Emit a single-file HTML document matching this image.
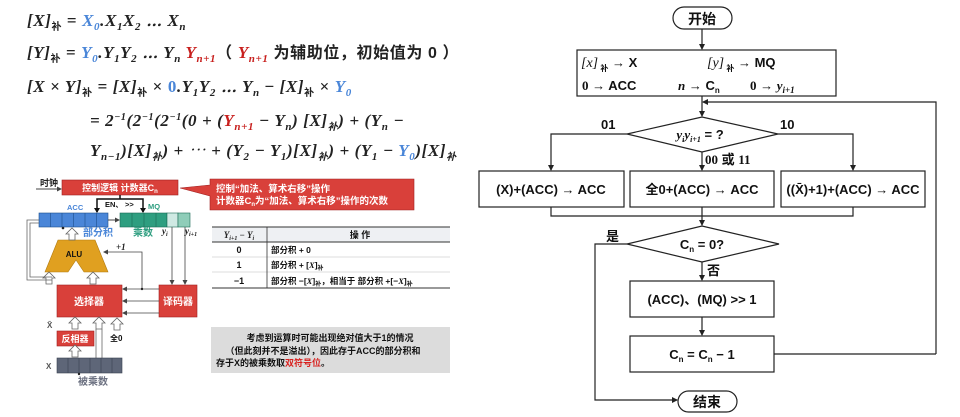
<!DOCTYPE html>
<html><head><meta charset="utf-8"><style>
html,body{margin:0;padding:0;background:#fff;}
svg{display:block;}
.m{font-family:"Liberation Serif","Noto Serif CJK SC",serif;font-weight:bold;font-style:italic;fill:#222;}
.fm{letter-spacing:0.6px;}
.s{font-family:"Liberation Sans","Noto Sans CJK SC",sans-serif;font-weight:bold;}
.f{font-family:"Liberation Sans","Noto Sans CJK SC",sans-serif;font-weight:bold;font-size:13px;fill:#111;}
.bl{fill:#4a86d8}.rd{fill:#c8201e}
</style></head><body>
<svg width="960" height="417" viewBox="0 0 960 417" xmlns="http://www.w3.org/2000/svg">
<defs>
<marker id="a" markerWidth="6" markerHeight="6" refX="5" refY="3" orient="auto" markerUnits="userSpaceOnUse"><path d="M0,0 L6,3 L0,6z" fill="#222"/></marker>
<marker id="b" markerWidth="5" markerHeight="5" refX="4" refY="2.5" orient="auto" markerUnits="userSpaceOnUse"><path d="M0,0 L5,2.5 L0,5z" fill="#444"/></marker>
<g id="ha"><path d="M-3,0 L-3,-6 L-6,-6 L0,-12 L6,-6 L3,-6 L3,0z" fill="#fff" stroke="#666" stroke-width="0.8"/></g>
</defs>

<!-- formulas -->
<text x="27" y="26" class="m fm" font-size="17">[X]<tspan class="s" font-style="normal" font-size="10" dy="4">补</tspan><tspan dy="-4" font-style="normal"> = </tspan><tspan class="bl">X</tspan><tspan class="bl" font-size="11" dy="4">0</tspan><tspan dy="-4">.X</tspan><tspan font-size="11" dy="4">1</tspan><tspan dy="-4">X</tspan><tspan font-size="11" dy="4">2</tspan><tspan dy="-4"> ⋯ X</tspan><tspan font-size="11" dy="4">n</tspan></text>
<text x="27" y="58" class="m fm" font-size="17">[Y]<tspan class="s" font-style="normal" font-size="10" dy="4">补</tspan><tspan dy="-4" font-style="normal"> = </tspan><tspan class="bl">Y</tspan><tspan class="bl" font-size="11" dy="4">0</tspan><tspan dy="-4">.Y</tspan><tspan font-size="11" dy="4">1</tspan><tspan dy="-4">Y</tspan><tspan font-size="11" dy="4">2</tspan><tspan dy="-4"> ⋯ Y</tspan><tspan font-size="11" dy="4">n</tspan><tspan dy="-4" class="rd"> Y</tspan><tspan class="rd" font-size="11" dy="4">n+1</tspan><tspan dy="-4" class="s" font-style="normal" font-size="16">（ </tspan><tspan class="rd">Y</tspan><tspan class="rd" font-size="11" dy="4">n+1</tspan><tspan dy="-4" class="s" font-style="normal" font-size="16"> 为辅助位，初始值为 0 ）</tspan></text>
<text x="27" y="92" class="m fm" font-size="17">[X × Y]<tspan class="s" font-style="normal" font-size="10" dy="4">补</tspan><tspan dy="-4" font-style="normal"> = </tspan>[X]<tspan class="s" font-style="normal" font-size="10" dy="4">补</tspan><tspan dy="-4" font-style="normal"> × </tspan><tspan class="bl" font-style="normal">0</tspan>.Y<tspan font-size="11" dy="4">1</tspan><tspan dy="-4">Y</tspan><tspan font-size="11" dy="4">2</tspan><tspan dy="-4"> ⋯ Y</tspan><tspan font-size="11" dy="4">n</tspan><tspan dy="-4" font-style="normal">  −  </tspan>[X]<tspan class="s" font-style="normal" font-size="10" dy="4">补</tspan><tspan dy="-4" font-style="normal"> × </tspan><tspan class="bl">Y</tspan><tspan class="bl" font-size="11" dy="4">0</tspan></text>
<text x="90" y="126" class="m fm" font-size="17" font-style="normal">= 2<tspan font-size="10" dy="-6">−1</tspan><tspan dy="6">(2</tspan><tspan font-size="10" dy="-6">−1</tspan><tspan dy="6">(2</tspan><tspan font-size="10" dy="-6">−1</tspan><tspan dy="6">(0 + (</tspan><tspan class="rd" font-style="italic">Y</tspan><tspan class="rd" font-style="italic" font-size="11" dy="4">n+1</tspan><tspan dy="-4"> − </tspan><tspan font-style="italic">Y</tspan><tspan font-style="italic" font-size="11" dy="4">n</tspan><tspan dy="-4">) [</tspan><tspan font-style="italic">X</tspan>]<tspan class="s" font-size="10" dy="4">补</tspan><tspan dy="-4">) + (</tspan><tspan font-style="italic">Y</tspan><tspan font-style="italic" font-size="11" dy="4">n</tspan><tspan dy="-4"> −</tspan></text>
<text x="90" y="156" class="m fm" font-size="17" font-style="normal"><tspan font-style="italic">Y</tspan><tspan font-style="italic" font-size="11" dy="4">n−1</tspan><tspan dy="-4">)[</tspan><tspan font-style="italic">X</tspan>]<tspan class="s" font-size="10" dy="4">补</tspan><tspan dy="-4">) + ⋯ + (</tspan><tspan font-style="italic">Y</tspan><tspan font-style="italic" font-size="11" dy="4">2</tspan><tspan dy="-4"> − </tspan><tspan font-style="italic">Y</tspan><tspan font-style="italic" font-size="11" dy="4">1</tspan><tspan dy="-4">)[</tspan><tspan font-style="italic">X</tspan>]<tspan class="s" font-size="10" dy="4">补</tspan><tspan dy="-4">) + (</tspan><tspan font-style="italic">Y</tspan><tspan font-style="italic" font-size="11" dy="4">1</tspan><tspan dy="-4"> − </tspan><tspan class="bl" font-style="italic">Y</tspan><tspan class="bl" font-style="italic" font-size="11" dy="4">0</tspan><tspan dy="-4">)[</tspan><tspan font-style="italic">X</tspan>]<tspan class="s" font-size="10" dy="4">补</tspan></text>

<!-- hardware diagram -->
<text x="40" y="186" class="s" font-size="9" fill="#222">时钟</text>
<line x1="36" y1="189" x2="61" y2="189" stroke="#444" stroke-width="1" marker-end="url(#b)"/>
<rect x="62" y="180" width="116" height="15" fill="#d9403a" stroke="#a02020" stroke-width="0.6"/>
<text x="120" y="191" class="s" font-size="9" fill="#fff" text-anchor="middle">控制逻辑  计数器C<tspan font-size="6" dy="2">n</tspan></text>
<path d="M210,179 L414,179 L414,210 L210,210 L210,196 L180,188 L210,185z" fill="#d9403a" stroke="#a02020" stroke-width="0.6"/>
<text x="216" y="192" class="s" font-size="9.5" fill="#fff">控制“加法、算术右移”操作</text>
<text x="216" y="204" class="s" font-size="9.5" fill="#fff">计数器C<tspan font-size="6" dy="2">n</tspan><tspan dy="-2">为“加法、算术右移”操作的次数</tspan></text>
<path d="M97,212 L97,199 L143,199 L143,212" fill="none" stroke="#111" stroke-width="1.5"/>
<line x1="120" y1="195" x2="120" y2="199" stroke="#111" stroke-width="1.5"/>
<path d="M94,208 L97,213 L100,208z M140,208 L143,213 L146,208z" fill="#111"/>
<text x="105" y="207" class="s" font-size="7.5" fill="#111">EN、 &gt;&gt;</text>
<text x="67" y="210" class="s" font-size="7.5" fill="#4a86d8">ACC</text>
<text x="148" y="209" class="s" font-size="7.5" fill="#2e9e80">MQ</text>
<g stroke="#1d4f8c" stroke-width="0.6">
<rect x="39" y="213" width="69" height="14" fill="#4a86d8"/>
<line x1="50.5" y1="213" x2="50.5" y2="227"/><line x1="62" y1="213" x2="62" y2="227"/><line x1="73.5" y1="213" x2="73.5" y2="227"/><line x1="85" y1="213" x2="85" y2="227"/><line x1="96.5" y1="213" x2="96.5" y2="227"/>
</g>
<g stroke="#1a6b55" stroke-width="0.6">
<rect x="120" y="213" width="47" height="14" fill="#2e9e80"/>
<line x1="132" y1="213" x2="132" y2="227"/><line x1="144" y1="213" x2="144" y2="227"/><line x1="156" y1="213" x2="156" y2="227"/>
<rect x="167" y="213" width="11" height="14" fill="#cfe9e3"/>
<rect x="178" y="213" width="12" height="14" fill="#8fcdb9"/>
</g>
<line x1="108" y1="220" x2="119" y2="220" stroke="#444" stroke-width="1" marker-end="url(#b)"/>
<circle cx="63" cy="228" r="1.3" fill="#222"/>
<text x="83" y="236" class="s" font-size="10" fill="#4a86d8">部分积</text>
<text x="133" y="236" class="s" font-size="10" fill="#2e9e80">乘数</text>
<text x="162" y="234" class="m" font-size="9">y<tspan font-size="6" dy="2">i</tspan></text>
<text x="185" y="234" class="m" font-size="9">y<tspan font-size="6" dy="2">i+1</tspan></text>
<path d="M45,272 L58,240 L95,240 L108,272 L84,272 L76,260 L68,272z" fill="#e0a020" stroke="#b07a10" stroke-width="0.6"/>
<text x="74" y="257" class="s" font-size="8" fill="#111" text-anchor="middle">ALU</text>
<use href="#ha" x="72" y="240"/>
<use href="#ha" x="49" y="284"/>
<use href="#ha" x="93" y="284"/>
<path d="M52,280 L27,280 L27,220 L39,220" fill="none" stroke="#666" stroke-width="0.8"/>
<path d="M52,277 L30,277 L30,223 L39,223" fill="none" stroke="#666" stroke-width="0.8"/>
<text x="116" y="250" class="m" font-style="normal" font-size="9">+1</text>
<path d="M142,289 L142,252 L104,252" fill="none" stroke="#444" stroke-width="0.8" marker-end="url(#b)"/>
<line x1="172" y1="227" x2="172" y2="284" stroke="#444" stroke-width="0.8" marker-end="url(#b)"/>
<line x1="185" y1="227" x2="185" y2="284" stroke="#444" stroke-width="0.8" marker-end="url(#b)"/>
<rect x="57" y="285" width="65" height="32" fill="#d9403a" stroke="#a02020" stroke-width="0.6"/>
<text x="89" y="305" class="s" font-size="10" fill="#fff" text-anchor="middle">选择器</text>
<rect x="159" y="285" width="38" height="32" fill="#d9403a" stroke="#a02020" stroke-width="0.6"/>
<text x="178" y="305" class="s" font-size="10" fill="#fff" text-anchor="middle">译码器</text>
<line x1="159" y1="289" x2="123" y2="289" stroke="#444" stroke-width="0.8" marker-end="url(#b)"/>
<circle cx="142" cy="289" r="1.2" fill="#222"/>
<line x1="159" y1="301" x2="123" y2="301" stroke="#444" stroke-width="0.8" marker-end="url(#b)"/>
<line x1="159" y1="313" x2="123" y2="313" stroke="#444" stroke-width="0.8" marker-end="url(#b)"/>
<text x="47" y="328" class="s" font-size="8" fill="#555">X̄</text>
<use href="#ha" x="75" y="329"/>
<use href="#ha" x="99" y="329"/>
<line x1="96" y1="329" x2="96" y2="358" stroke="#666" stroke-width="0.8"/>
<line x1="102" y1="329" x2="102" y2="358" stroke="#666" stroke-width="0.8"/>
<use href="#ha" x="117" y="330"/>
<text x="110" y="341" class="s" font-size="8" fill="#111">全0</text>
<rect x="57" y="331" width="37" height="15" fill="#d9403a" stroke="#a02020" stroke-width="0.6"/>
<text x="75" y="342" class="s" font-size="9" fill="#fff" text-anchor="middle">反相器</text>
<use href="#ha" x="75" y="357"/>
<text x="46" y="369" class="s" font-size="8" fill="#555">X</text>
<g stroke="#3a4150" stroke-width="0.6">
<rect x="57" y="358" width="65" height="15" fill="#5e6678"/>
<line x1="68" y1="358" x2="68" y2="373"/><line x1="79" y1="358" x2="79" y2="373"/><line x1="90" y1="358" x2="90" y2="373"/><line x1="101" y1="358" x2="101" y2="373"/><line x1="112" y1="358" x2="112" y2="373"/>
</g>
<circle cx="79" cy="374" r="1.2" fill="#222"/>
<text x="78" y="385" class="s" font-size="10" fill="#6b7080">被乘数</text>

<!-- table -->
<rect x="212" y="227" width="238" height="15" fill="#eef0f3"/>
<line x1="212" y1="227" x2="450" y2="227" stroke="#333" stroke-width="1"/>
<line x1="212" y1="242" x2="450" y2="242" stroke="#333" stroke-width="1"/>
<line x1="212" y1="257" x2="450" y2="257" stroke="#bbb" stroke-width="0.6"/>
<line x1="212" y1="272" x2="450" y2="272" stroke="#bbb" stroke-width="0.6"/>
<line x1="212" y1="288" x2="450" y2="288" stroke="#333" stroke-width="1"/>
<line x1="267" y1="227" x2="267" y2="288" stroke="#333" stroke-width="0.8"/>
<text x="239" y="238" class="m" font-size="9" text-anchor="middle">Y<tspan font-size="6" dy="2">i+1</tspan><tspan dy="-2" font-style="normal"> − </tspan>Y<tspan font-size="6" dy="2">i</tspan></text>
<text x="360" y="238" class="s" font-size="9" fill="#111" text-anchor="middle">操    作</text>
<text x="239" y="253" class="s" font-size="9" fill="#111" text-anchor="middle">0</text>
<text x="239" y="268" class="s" font-size="9" fill="#111" text-anchor="middle">1</text>
<text x="239" y="284" class="s" font-size="9" fill="#111" text-anchor="middle">−1</text>
<text x="271" y="253" class="s" font-size="8.5" fill="#111">部分积 + 0</text>
<text x="271" y="268" class="s" font-size="8.5" fill="#111">部分积 + [<tspan font-style="italic" font-family="Liberation Serif">X</tspan>]<tspan font-size="6" dy="2">补</tspan></text>
<text x="271" y="284" class="s" font-size="8.5" fill="#111">部分积 −[<tspan font-style="italic" font-family="Liberation Serif">X</tspan>]<tspan font-size="6" dy="2">补</tspan><tspan dy="-2">，相当于 部分积 +[−</tspan><tspan font-style="italic" font-family="Liberation Serif">X</tspan>]<tspan font-size="6" dy="2">补</tspan></text>

<rect x="211" y="327" width="239" height="46" fill="#dcdcdc"/>
<text x="330" y="341" class="s" font-size="9" fill="#111" text-anchor="middle">考虑到运算时可能出现绝对值大于1的情况</text>
<text x="323" y="354" class="s" font-size="9" fill="#111" text-anchor="middle">（但此刻并不是溢出），因此存于ACC的部分积和</text>
<text x="216" y="366" class="s" font-size="9" fill="#111">存于X的被乘数取<tspan fill="#d9201e">双符号位</tspan>。</text>

<!-- flowchart -->
<g stroke="#222" stroke-width="1.2" fill="none">
<rect x="673" y="7" width="59" height="22" rx="11" fill="#fff"/>
<line x1="702" y1="29" x2="702" y2="49" marker-end="url(#a)"/>
<rect x="577" y="50" width="259" height="46" fill="#fff"/>
<line x1="702" y1="96" x2="702" y2="116" marker-end="url(#a)"/>
<path d="M936,354 L936,102 L703,102" marker-end="url(#a)"/>
<path d="M627,134 L702,117 L778,134 L702,152z" fill="#fff"/>
<path d="M627,134 L551,134 L551,170" marker-end="url(#a)"/>
<path d="M778,134 L853,134 L853,170" marker-end="url(#a)"/>
<line x1="702" y1="152" x2="702" y2="170" marker-end="url(#a)"/>
<rect x="479" y="171" width="145" height="36" fill="#fff"/>
<rect x="630" y="171" width="144" height="36" fill="#fff"/>
<rect x="781" y="171" width="144" height="36" fill="#fff"/>
<path d="M551,207 L551,216 L853,216 L853,207"/>
<line x1="702" y1="207" x2="702" y2="225" marker-end="url(#a)"/>
<path d="M627,244 L702,226 L779,244 L702,262z" fill="#fff"/>
<path d="M627,244 L595,244 L595,400 L677,400" marker-end="url(#a)"/>
<line x1="702" y1="262" x2="702" y2="280" marker-end="url(#a)"/>
<rect x="630" y="281" width="144" height="36" fill="#fff"/>
<line x1="702" y1="317" x2="702" y2="335" marker-end="url(#a)"/>
<rect x="630" y="336" width="144" height="36" fill="#fff"/>
<line x1="774" y1="354" x2="936" y2="354"/>
<rect x="678" y="391" width="59" height="21" rx="10.5" fill="#fff"/>
</g>
<text x="702" y="24" class="s" font-size="14" fill="#111" text-anchor="middle">开始</text>
<text x="707" y="407" class="s" font-size="14" fill="#111" text-anchor="middle">结束</text>
<text x="581" y="67" class="f"><tspan font-family="Liberation Serif" font-style="italic" font-weight="normal" font-size="14">[x]</tspan><tspan font-size="8" dy="4"> 补</tspan><tspan dy="-4"> → X</tspan></text>
<text x="707" y="67" class="f"><tspan font-family="Liberation Serif" font-style="italic" font-weight="normal" font-size="14">[y]</tspan><tspan font-size="8" dy="4"> 补</tspan><tspan dy="-4"> → MQ</tspan></text>
<text x="582" y="90" class="f"><tspan font-family="Liberation Serif">0</tspan> → ACC</text>
<text x="678" y="90" class="f"><tspan font-family="Liberation Serif" font-style="italic">n</tspan> → C<tspan font-size="8" dy="3">n</tspan></text>
<text x="750" y="90" class="f"><tspan font-family="Liberation Serif">0</tspan> → <tspan font-family="Liberation Serif" font-style="italic">y</tspan><tspan font-family="Liberation Serif" font-style="italic" font-size="9" dy="3">i+1</tspan></text>
<text x="601" y="129" class="f" font-family="Liberation Serif">01</text>
<text x="780" y="129" class="f" font-family="Liberation Serif">10</text>
<text x="700" y="139" class="f" text-anchor="middle"><tspan font-family="Liberation Serif" font-style="italic">y</tspan><tspan font-family="Liberation Serif" font-style="italic" font-size="8" dy="3">i</tspan><tspan font-family="Liberation Serif" font-style="italic" dy="-3">y</tspan><tspan font-family="Liberation Serif" font-style="italic" font-size="8" dy="3">i+1</tspan><tspan dy="-3"> = ?</tspan></text>
<text x="705" y="164" class="f"><tspan font-family="Liberation Serif">00</tspan> 或 <tspan font-family="Liberation Serif">11</tspan></text>
<text x="551" y="194" class="f" text-anchor="middle">(X)+(ACC) → ACC</text>
<text x="702" y="194" class="f" text-anchor="middle">全0+(ACC) → ACC</text>
<text x="853" y="194" class="f" text-anchor="middle">((X̄)+1)+(ACC) → ACC</text>
<text x="606" y="241" class="f">是</text>
<text x="702" y="249" class="f" text-anchor="middle">C<tspan font-size="8" dy="3">n</tspan><tspan dy="-3"> = 0?</tspan></text>
<text x="707" y="275" class="f">否</text>
<text x="702" y="304" class="f" text-anchor="middle">(ACC)、(MQ) &gt;&gt; 1</text>
<text x="702" y="359" class="f" text-anchor="middle">C<tspan font-size="8" dy="3">n</tspan><tspan dy="-3"> = C</tspan><tspan font-size="8" dy="3">n</tspan><tspan dy="-3"> − 1</tspan></text>
</svg>
</body></html>
